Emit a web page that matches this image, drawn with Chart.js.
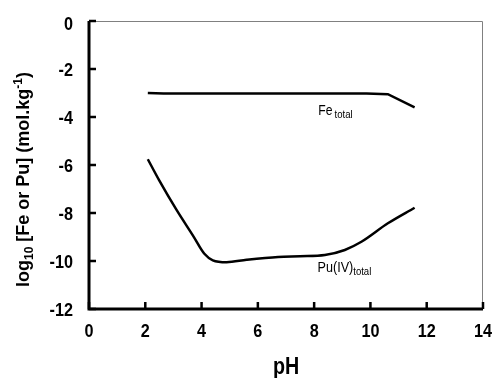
<!DOCTYPE html>
<html>
<head>
<meta charset="utf-8">
<script src="https://cdn.jsdelivr.net/npm/chart.js@4/dist/chart.umd.min.js"></script>
<style>
html,body{margin:0;padding:0;background:#fff;}
#wrap{width:495px;height:378px;position:relative;}
</style>
</head>
<body>
<div id="wrap"><canvas id="c" width="495" height="378"></canvas></div>
<script>
// ---- data ----
const feX = [2.09, 2.65, 7.14, 8.09, 9.86, 10.62, 11.57];
const feY = [-3.00, -3.02, -3.02, -3.02, -3.02, -3.05, -3.60];
const puX = [2.09, 2.49, 3.10, 3.70, 4.10, 4.40, 4.89, 5.60, 6.72, 7.50, 8.38, 9.09, 9.68, 10.62, 11.57];
const puY = [-5.76, -6.63, -7.85, -8.95, -9.70, -9.97, -10.05, -9.95, -9.83, -9.80, -9.75, -9.54, -9.20, -8.43, -7.78];
const xTicks = [0, 2, 4, 6, 8, 10, 12, 14];
const yTicks = [0, -2, -4, -6, -8, -10, -12];

const SANS = '"Liberation Sans", Arial, sans-serif';

// draw text horizontally condensed (mimics a narrow face)
function narrowText(ctx, text, x, y, font, sx, align) {
  ctx.save();
  ctx.font = font;
  const w = ctx.measureText(text).width * sx;
  let x0 = x;
  if (align === 'right') x0 = x - w;
  else if (align === 'center') x0 = x - w / 2;
  ctx.translate(x0, y);
  ctx.scale(sx, 1);
  ctx.textAlign = 'left';
  ctx.fillText(text, 0, 0);
  ctx.restore();
  return w;
}

function drawRich(ctx, parts, x, y) {
  let cx = x;
  parts.forEach(p => {
    const sx = p.sx || 1;
    cx += narrowText(ctx, p.t, cx, y + (p.dy || 0), p.font, sx, 'left') + (p.gap || 0);
  });
}

const framePlugin = {
  id: 'frame',
  afterDraw(chart) {
    const ctx = chart.ctx;
    const a = chart.chartArea;
    const xs = chart.scales.x, ys = chart.scales.y;
    ctx.save();
    // thin grey top/right frame
    ctx.strokeStyle = '#808080';
    ctx.lineWidth = 1;
    ctx.beginPath();
    ctx.moveTo(a.left, a.top + 0.5);
    ctx.lineTo(a.right - 0.5, a.top + 0.5);
    ctx.lineTo(a.right - 0.5, a.bottom);
    ctx.stroke();
    // thick black axes
    ctx.strokeStyle = '#000';
    ctx.lineWidth = 3;
    ctx.beginPath();
    ctx.moveTo(a.left, a.top);
    ctx.lineTo(a.left, a.bottom);
    ctx.lineTo(a.right, a.bottom);
    ctx.stroke();
    // inward ticks
    ctx.lineWidth = 2.5;
    ctx.beginPath();
    yTicks.forEach(v => {
      const py = ys.getPixelForValue(v);
      ctx.moveTo(a.left, py);
      ctx.lineTo(a.left + 7, py);
    });
    xTicks.forEach(v => {
      const px = xs.getPixelForValue(v);
      ctx.moveTo(px, a.bottom);
      ctx.lineTo(px, a.bottom - 7);
    });
    ctx.stroke();

    ctx.fillStyle = '#000';
    ctx.textBaseline = 'alphabetic';
    const tickFont = 'bold 18px ' + SANS;
    yTicks.forEach(v => {
      const py = Math.max(ys.getPixelForValue(v), a.top + 2.5);
      narrowText(ctx, String(v), a.left - 16, py + 6.5, tickFont, 0.9, 'right');
    });
    xTicks.forEach(v => {
      narrowText(ctx, String(v), xs.getPixelForValue(v), a.bottom + 28, tickFont, 0.9, 'center');
    });

    // series labels
    drawRich(ctx, [
      {t: 'Fe', font: '14px ' + SANS, sx: 0.87, gap: 2},
      {t: 'total', font: '11px ' + SANS, sx: 0.87, dy: 3}
    ], xs.getPixelForValue(8.15), ys.getPixelForValue(-3.92));
    drawRich(ctx, [
      {t: 'Pu(IV)', font: '14px ' + SANS, sx: 0.9},
      {t: 'total', font: '11px ' + SANS, sx: 0.87, dy: 3}
    ], xs.getPixelForValue(8.12), ys.getPixelForValue(-10.47));

    // x title
    narrowText(ctx, 'pH', (a.left + a.right) / 2, 374, 'bold 24px ' + SANS, 0.82, 'center');

    // y title (rotated)
    ctx.translate(28.5, 287);
    ctx.rotate(-Math.PI / 2);
    drawRich(ctx, [
      {t: 'log', font: 'bold 18px ' + SANS},
      {t: '10', font: 'bold 12px ' + SANS, dy: 4},
      {t: ' [Fe or Pu] (mol.kg', font: 'bold 18px ' + SANS},
      {t: '-1', font: 'bold 12px ' + SANS, dy: -7},
      {t: ')', font: 'bold 18px ' + SANS}
    ], 0, 0);
    ctx.restore();
  }
};

new Chart(document.getElementById('c'), {
  type: 'scatter',
  data: {
    datasets: [
      {
        label: 'Fe total',
        data: feX.map((x, i) => ({x, y: feY[i]})),
        showLine: true,
        borderColor: '#000',
        borderWidth: 2.5,
        pointRadius: 0,
        tension: 0
      },
      {
        label: 'Pu(IV) total',
        data: puX.map((x, i) => ({x, y: puY[i]})),
        showLine: true,
        borderColor: '#000',
        borderWidth: 2.5,
        pointRadius: 0,
        cubicInterpolationMode: 'monotone'
      }
    ]
  },
  options: {
    responsive: false,
    animation: false,
    devicePixelRatio: 1,
    layout: {padding: {top: 21, right: 12, left: 0, bottom: 0}},
    plugins: {legend: {display: false}, tooltip: {enabled: false}},
    scales: {
      x: {
        type: 'linear',
        min: 0, max: 14,
        afterBuildTicks: s => { s.ticks = xTicks.map(v => ({value: v})); },
        afterFit: s => { s.height = 69; s.paddingLeft = 0; s.paddingRight = 0; },
        grid: {display: false, drawTicks: false},
        border: {display: false},
        ticks: {display: false}
      },
      y: {
        type: 'linear',
        min: -12, max: 0,
        afterBuildTicks: s => { s.ticks = yTicks.map(v => ({value: v})); },
        afterFit: s => { s.width = 89; s.paddingTop = 0; s.paddingBottom = 0; },
        grid: {display: false, drawTicks: false},
        border: {display: false},
        ticks: {display: false}
      }
    }
  },
  plugins: [framePlugin]
});
</script>
</body>
</html>
